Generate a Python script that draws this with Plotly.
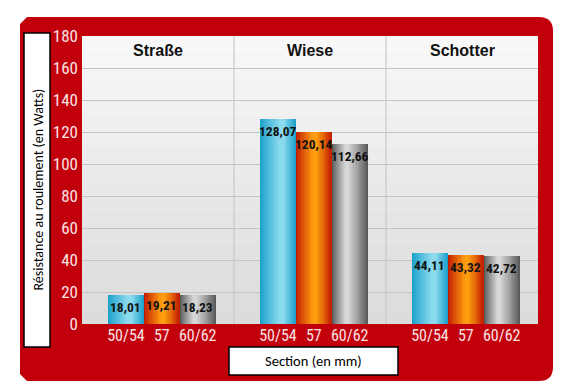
import plotly.graph_objects as go

# ---- data ----
categories = ["Straße", "Wiese", "Schotter"]
sections = ["50/54", "57", "60/62"]
v_5054 = [18.01, 128.07, 44.11]
v_57 = [19.21, 120.14, 43.32]
v_6062 = [18.23, 112.66, 42.72]
y_ticks = [0, 20, 40, 60, 80, 100, 120, 140, 160, 180]
y_title = "Résistance au roulement (en Watts)"
x_title = "Section (en mm)"

series = [v_5054, v_57, v_6062]

# ---- styles / layout ----
OFF = 8  # default page body margin
W, H = 567 - OFF, 389 - OFF
L, R, T, B = 82 - OFF, 538 - OFF, 36 - OFF, 324 - OFF


def px(x):
    return (x - OFF - L) / (R - L)


def py(y):
    return (B - (y - OFF)) / (B - T)


BAR_W = 0.236
GROUP_SHIFT = 0.025
# edge colour, highlight colour, highlight position (relative to bar width)
shading = [
    ((28, 160, 202), (140, 218, 238), 0.10),
    ((192, 28, 0), (255, 158, 16), 0.03),
    ((92, 92, 92), (214, 214, 214), -0.08),
]
N_LAYERS = 14
TICK_FONT = "Liberation Sans Narrow, Roboto Condensed, Roboto, sans-serif"

fig = go.Figure()

centers_all = []
ticktext = []
for gi in range(len(categories)):
    for si in range(len(sections)):
        centers_all.append(gi + 0.5 + GROUP_SHIFT + (si - 1) * BAR_W)
        ticktext.append(sections[si])


def lerp(a, b, f):
    return tuple(int(round(a[i] + (b[i] - a[i]) * f)) for i in range(3))


for si, vals in enumerate(series):
    xs = [gi + 0.5 + GROUP_SHIFT + (si - 1) * BAR_W for gi in range(len(categories))]
    edge, hl, hpos = shading[si]
    for k in range(N_LAYERS):
        f = k / (N_LAYERS - 1)
        rw = 1 - 0.88 * f
        off = hpos * f
        col = "rgb(%d,%d,%d)" % lerp(edge, hl, f ** 0.9)
        fig.add_trace(go.Bar(
            x=[x + off * BAR_W for x in xs], y=vals, width=BAR_W * rw,
            marker=dict(color=col, line=dict(width=0)),
            showlegend=False, hoverinfo="skip",
        ))
    for x, v in zip(xs, vals):
        fig.add_annotation(
            x=x, y=v, xref="x", yref="y", yanchor="top", xanchor="center", yshift=-2,
            text="<b>" + f"{v:.2f}".replace(".", ",") + "</b>", showarrow=False,
            font=dict(family=TICK_FONT, size=13.5, color="#111111"),
        )

# section titles
for gi, c in enumerate(categories):
    fig.add_annotation(
        x=gi + 0.5, y=171, xref="x", yref="y", text="<b>" + c + "</b>",
        xanchor="center", yanchor="middle",
        showarrow=False, font=dict(family="Liberation Sans, Arial, sans-serif", size=16, color="#111111"),
    )

shapes = []
# background bands (gradient imitation)
nb = 18
for k in range(nb):
    t = k / (nb - 1)
    g0 = int(220 + (248 - 220) * t)
    shapes.append(dict(type="rect", xref="x", yref="y", x0=0, x1=3, y0=k * 10, y1=(k + 1) * 10,
                       fillcolor=f"rgb({g0},{g0},{g0})", line=dict(width=0), layer="below"))
# section dividers
for xv in [1, 2]:
    shapes.append(dict(type="line", xref="x", yref="y", x0=xv, x1=xv, y0=0, y1=180,
                       line=dict(color="#c2c2c2", width=1), layer="below"))

# red frame with hole for the plot area
x0, x1 = px(20), px(553)
y0, y1 = py(381), py(17)
rx = 14 / (R - L)
ry = 14 / (B - T)
cx = 7 / (R - L)
cy = 7 / (B - T)
outer = (f"M {x0 + cx} {y1} L {x1 - rx} {y1} Q {x1} {y1} {x1} {y1 - ry} "
         f"L {x1} {y0 + ry} Q {x1} {y0} {x1 - rx} {y0} "
         f"L {x0 + cx} {y0} L {x0} {y0 + cy} L {x0} {y1 - cy} Z")
inner = "M 0 0 L 1 0 L 1 1 L 0 1 Z"
shapes.append(dict(type="path", xref="paper", yref="paper", path=outer + " " + inner,
                   fillcolor="#c2000b", line=dict(width=0), layer="below"))

# axis title boxes
shapes.append(dict(type="rect", xref="paper", yref="paper", x0=px(24), x1=px(50), y0=py(347), y1=py(33),
                   fillcolor="white", line=dict(color="black", width=1.5), layer="above"))
shapes.append(dict(type="rect", xref="paper", yref="paper", x0=px(229), x1=px(398), y0=py(375), y1=py(347),
                   fillcolor="white", line=dict(color="black", width=1.5), layer="above"))

fig.add_annotation(x=px(37.5), y=py(190), xref="paper", yref="paper", text=y_title, textangle=-90,
                   xanchor="center", yanchor="middle",
                   showarrow=False, font=dict(family="Carlito, Liberation Sans, Open Sans, sans-serif", size=14, color="black"))
fig.add_annotation(x=px(313.5), y=py(361), xref="paper", yref="paper", text=x_title,
                   xanchor="center", yanchor="middle",
                   showarrow=False, font=dict(family="Carlito, Liberation Sans, Open Sans, sans-serif", size=14.5, color="black"))

fig.update_layout(
    width=W, height=H,
    margin=dict(l=L, r=W - R, t=T, b=H - B, pad=0),
    paper_bgcolor="white", plot_bgcolor="rgba(0,0,0,0)",
    barmode="overlay", bargap=0,
    shapes=shapes, showlegend=False,
)
fig.update_xaxes(range=[0, 3], tickvals=centers_all, ticktext=ticktext, showgrid=False,
                 zeroline=False, showline=False, ticks="",
                 tickfont=dict(family=TICK_FONT, size=16, color="#fbe3e3"), fixedrange=True)
fig.update_yaxes(range=[0, 180], tickvals=y_ticks, showgrid=True, gridcolor="#c4c4c4", gridwidth=1,
                 zeroline=False, showline=False, ticks="", ticklabelstandoff=3,
                 tickfont=dict(family=TICK_FONT, size=17, color="#fbe3e3"), fixedrange=True)

fig.write_html("out.html")
